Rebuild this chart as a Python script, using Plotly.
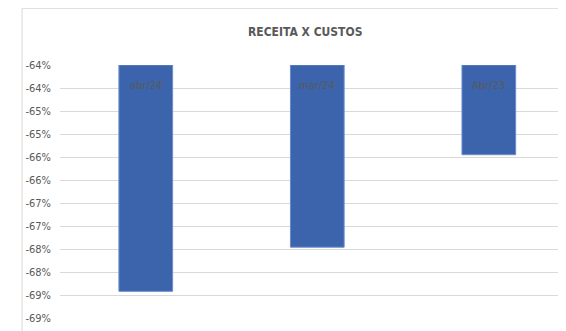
import plotly.graph_objects as go

categories = ["abr/24", "mar/24", "Abr/23"]
values = [-0.6842, -0.6746, -0.6545]
axis_top = -0.635
axis_bottom = -0.69
tick_values = [-0.635, -0.64, -0.645, -0.65, -0.655, -0.66, -0.665, -0.67, -0.675, -0.68, -0.685, -0.69]
tick_labels = ["-64%", "-64%", "-65%", "-65%", "-66%", "-66%", "-67%", "-67%", "-68%", "-68%", "-69%", "-69%"]
title_text = "RECEITA X CUSTOS"

FONT = "DejaVu Sans Condensed, Liberation Sans Narrow, Arial Narrow, sans-serif"
GRAY = "#595959"

fig = go.Figure()
fig.add_trace(go.Bar(
    x=categories,
    y=[v - axis_top for v in values],
    base=[axis_top] * len(values),
    marker=dict(color="#3c64ac", line=dict(color="#6a8bcb", width=1)),
    width=0.313,
    hoverinfo="skip",
))

annotations = [dict(text="<b>" + title_text + "</b>", xref="paper", yref="paper",
                    x=0.484, y=1.13, xanchor="center", yanchor="middle",
                    showarrow=False, font=dict(family=FONT, size=12, color=GRAY))]
for c in categories:
    annotations.append(dict(text=c, x=c, y=axis_top, xref="x", yref="y",
                            yanchor="middle", yshift=-20, showarrow=False,
                            font=dict(family=FONT, size=11, color=GRAY)))

# page body has an 8px margin, so the figure is 8px smaller and margins shifted
fig.update_layout(
    width=558, height=323,
    margin=dict(l=52, r=0, t=57, b=13, autoexpand=False),
    paper_bgcolor="white", plot_bgcolor="white",
    showlegend=False,
    font=dict(family=FONT, color=GRAY, size=11),
    xaxis=dict(
        type="category", range=[-0.5, 2.45], automargin=False,
        showticklabels=False,
        showgrid=False, zeroline=False, showline=False, ticks="",
    ),
    yaxis=dict(
        range=[axis_bottom, axis_top], tickmode="array", automargin=False,
        tickvals=tick_values, ticktext=tick_labels,
        showgrid=True, gridcolor="#d9d9d9", gridwidth=1,
        zeroline=False, showline=False, ticks="",
        ticklabelstandoff=8,
        tickfont=dict(family=FONT, size=11, color=GRAY),
    ),
    shapes=[dict(type="rect", xref="paper", yref="paper",
                 x0=-0.075, x1=1.05, y0=-0.1, y1=1.224,
                 line=dict(color="#d9d9d9", width=1), fillcolor="rgba(0,0,0,0)",
                 layer="below")],
    annotations=annotations,
)

fig.write_html("out.html")
